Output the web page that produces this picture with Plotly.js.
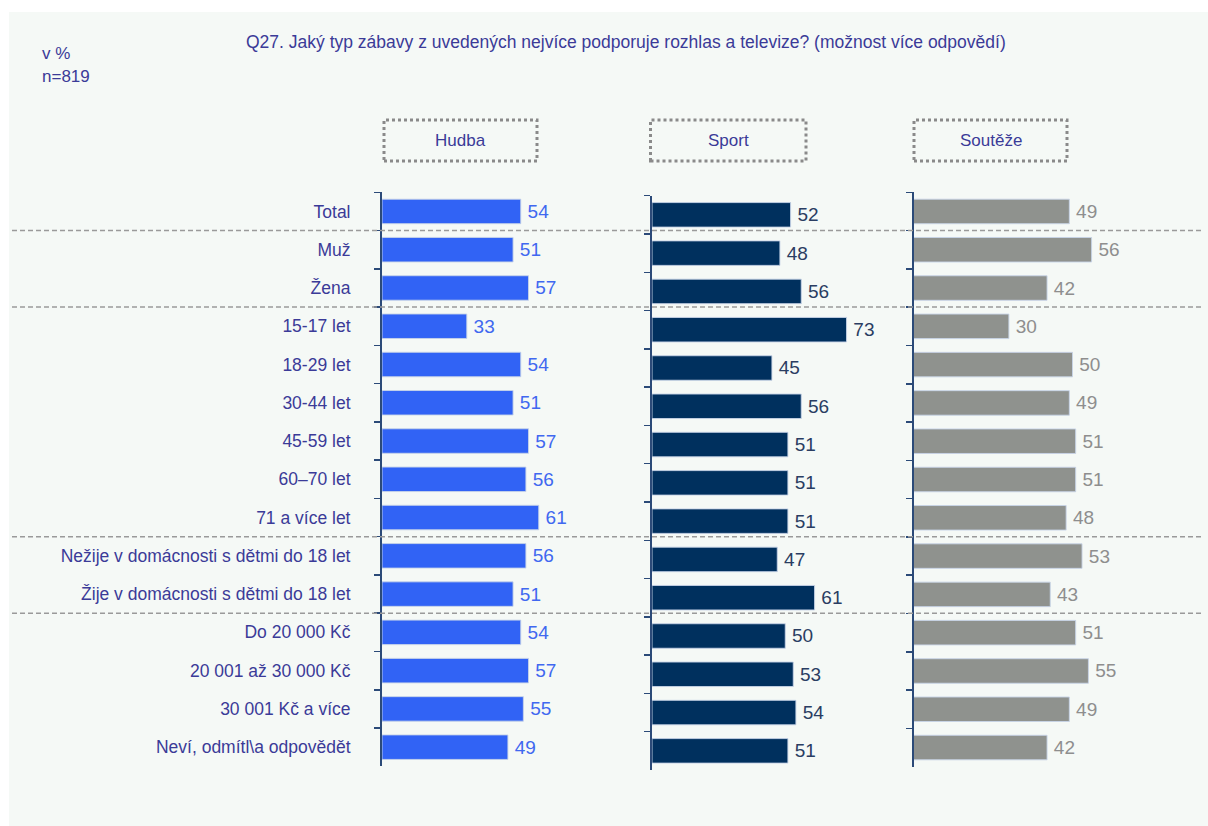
<!DOCTYPE html>
<html>
<head>
<meta charset="utf-8">
<script src="https://cdn.plot.ly/plotly-3.0.1.min.js"></script>
<style>html,body{margin:0;padding:0;background:#fff;}#chart{width:1208px;height:826px;}</style>
</head>
<body>
<div id="chart"></div>
<script>
const categories = [
  "Total", "Muž", "Žena", "15-17 let", "18-29 let", "30-44 let", "45-59 let", "60–70 let", "71 a více let",
  "Nežije v domácnosti s dětmi do 18 let", "Žije v domácnosti s dětmi do 18 let",
  "Do 20 000 Kč", "20 001 až 30 000 Kč", "30 001 Kč a více", "Neví, odmítl\\a odpovědět"
];
const hudba   = [54, 51, 57, 33, 54, 51, 57, 56, 61, 56, 51, 54, 57, 55, 49];
const sport   = [52, 48, 56, 73, 45, 56, 51, 51, 51, 47, 61, 50, 53, 54, 51];
const souteze = [49, 56, 42, 30, 50, 49, 51, 51, 48, 53, 43, 51, 55, 49, 42];
const panelTitles = ["Hudba", "Sport", "Soutěže"];
const titleText = "Q27. Jaký typ zábavy z uvedených nejvíce podporuje rozhlas a televize? (možnost více odpovědí)";
const noteLines = ["v %", "n=819"];

const W = 1208, H = 826;
const px = v => v / W;
const py = v => 1 - v / H;
const FONT = '"Liberation Sans", Arial, sans-serif';
const TXT = '#3b3b98';
const AX = '#2b4a78';

function bar(vals, color, tcolor, xa, ya) {
  return {
    type: 'bar', orientation: 'h', x: vals, y: categories,
    xaxis: xa, yaxis: ya,
    marker: {color: color, line: {color: 'rgba(200,212,232,0.9)', width: 1}},
    text: vals.map(v => '\u2009' + v), textposition: 'outside', cliponaxis: false,
    textfont: {family: FONT, size: 19, color: tcolor},
    hoverinfo: 'skip', showlegend: false
  };
}

const data = [
  bar(hudba, '#3163f5', '#4068f0', 'x', 'y'),
  bar(sport, '#00305e', '#2a3d62', 'x2', 'y2'),
  bar(souteze, '#8f928e', '#8e8e8e', 'x3', 'y3')
];

function yax(top, bottom, anchor, labels) {
  return {
    type: 'category', categoryorder: 'array', categoryarray: categories,
    range: [categories.length - 0.5, -0.5],
    domain: [py(bottom), py(top)], anchor: anchor,
    showline: true, linecolor: AX, linewidth: 2,
    ticks: 'outside', tickson: 'boundaries', ticklen: 6, tickwidth: 1.5, tickcolor: AX,
    showgrid: false, zeroline: false,
    showticklabels: labels, ticklabelstandoff: 26,
    tickfont: {family: FONT, size: 17.5, color: TXT}
  };
}
function xax(start, scale, anchor) {
  return {
    domain: [px(start), px(start + 90 * scale)], range: [0, 90], anchor: anchor,
    visible: false, showgrid: false, zeroline: false, fixedrange: true
  };
}

const shapes = [
  {type: 'rect', xref: 'paper', yref: 'paper', x0: px(9), x1: 1, y0: 0, y1: py(12),
   fillcolor: '#f5f9f6', line: {width: 0}, layer: 'below'}
];
[0.5, 2.5, 8.5, 10.5].forEach(b => shapes.push({
  type: 'line', xref: 'paper', yref: 'y', x0: px(12), x1: px(1204), y0: b, y1: b,
  line: {color: '#9a9a9a', width: 1.5, dash: '5px,3px'}, layer: 'above'
}));
const boxes = [[384, 537], [650.5, 806], [914, 1067]];
const annotations = [];
boxes.forEach((b, i) => {
  shapes.push({type: 'rect', xref: 'paper', yref: 'paper', x0: px(b[0]), x1: px(b[1]), y0: py(161), y1: py(120),
    line: {color: '#8a8a8a', width: 3, dash: 'dot'}, fillcolor: 'rgba(0,0,0,0)'});
  annotations.push({xref: 'paper', yref: 'paper', x: px((b[0] + b[1]) / 2), y: py(140.5), xanchor: 'center', yanchor: 'middle',
    text: panelTitles[i], showarrow: false, font: {family: FONT, size: 17, color: TXT}});
});
annotations.push({xref: 'paper', yref: 'paper', x: px(626), y: py(42), xanchor: 'center', yanchor: 'middle',
  text: titleText, showarrow: false, font: {family: FONT, size: 17.5, color: TXT}});
annotations.push({xref: 'paper', yref: 'paper', x: px(40), y: py(53), xanchor: 'left', yanchor: 'middle',
  text: noteLines[0], showarrow: false, font: {family: FONT, size: 17, color: TXT}});
annotations.push({xref: 'paper', yref: 'paper', x: px(40), y: py(76.5), xanchor: 'left', yanchor: 'middle',
  text: noteLines[1], showarrow: false, font: {family: FONT, size: 17, color: TXT}});

const layout = {
  width: W, height: H, margin: {l: 0, r: 0, t: 0, b: 0},
  paper_bgcolor: '#ffffff', plot_bgcolor: 'rgba(0,0,0,0)',
  bargap: 0.36, showlegend: false,
  font: {family: FONT, color: TXT},
  xaxis: xax(382, 2.57, 'y'),
  xaxis2: xax(652, 2.665, 'y2'),
  xaxis3: xax(913.5, 3.18, 'y3'),
  yaxis: yax(192.3, 766.3, 'x', true),
  yaxis2: yax(195.7, 770, 'x2', false),
  yaxis3: yax(192.3, 766.7, 'x3', false),
  shapes: shapes, annotations: annotations
};
Plotly.newPlot('chart', data, layout, {staticPlot: true, displayModeBar: false});
</script>
</body>
</html>
